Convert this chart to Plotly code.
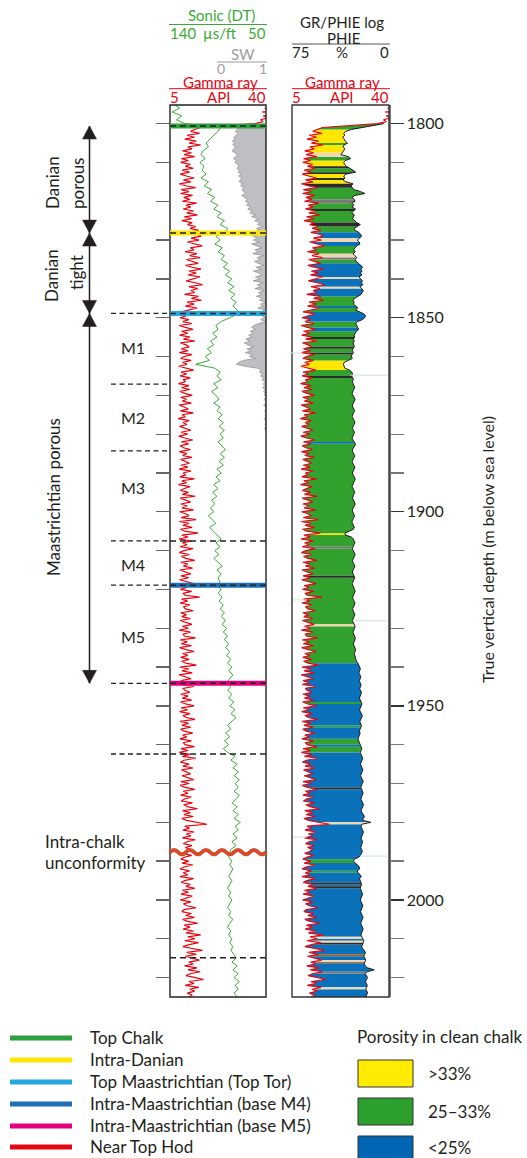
import numpy as np
import plotly.graph_objects as go

W, H = 527, 1158
FONT = "Lato"
TXT = "#231f20"
RED = "#E30613"
GREEN = "#3AAA35"
GREY = "#9D9D9C"

# ---------------- DATA ----------------
# Gamma ray (API), 0.5 m sampling starting at 1795 m
GR_TOP = 1795.0
GR_STEP = 0.5
GR_API = [
    46, 44, 39.5, 45, 38.5, 44, 39, 41, 38, 39, 36, 27, 16, 14,
    12.5, 15.8, 11.2, 13.9, 10.4, 14.6, 12.0, 16.2, 11.5, 13.0, 9.6, 12.8, 10.1, 14.0, 9.2, 11.7, 8.9, 12.4, 10.6, 13.5,
    9.4, 12.1, 8.7, 11.0, 13.8, 9.9, 12.6, 8.4, 10.8, 14.3, 9.1, 11.9, 8.8, 13.2, 10.0, 12.2, 9.5, 14.7, 10.9, 12.5,
    9.8, 13.6, 11.1, 15.0, 10.2, 12.9, 9.3, 13.1, 11.4, 14.4, 12.3, 15.5,
    11.8, 14.9, 16.4, 12.7, 15.6, 11.3, 14.1, 16.8, 12.4, 13.7, 10.5, 14.8, 12.2, 16.0, 11.0, 13.4, 15.3, 10.7, 13.0, 16.3,
    12.0, 14.5, 11.6, 15.9, 13.3, 10.9, 14.2, 16.9, 11.9, 15.1, 12.6, 14.0, 10.3, 15.4, 12.8, 16.5, 11.2, 13.8, 10.6, 14.9,
    12.1, 9.0, 13.2, 10.4, 8.6, 11.8, 9.7, 12.9, 8.3, 10.6, 13.4, 9.2, 11.5, 8.5, 12.3, 9.9, 14.1, 8.8, 10.9, 12.0,
    9.1, 11.6, 8.4, 13.0, 10.2, 8.9, 12.7, 9.6, 11.3, 8.2, 10.5, 13.6, 9.0, 11.1, 8.7, 12.4, 9.8, 10.7, 8.1, 11.9,
    9.3, 12.2, 8.6, 10.4, 13.1, 8.9, 11.0, 9.5, 12.8, 8.3, 10.1, 11.7, 8.8, 13.5, 9.4, 10.6, 8.0, 12.0, 9.7, 11.2,
    8.5, 10.9, 12.6, 9.0, 11.4, 8.2, 10.3, 13.3, 9.2, 11.8, 8.7, 10.0, 12.4, 8.4, 11.1, 9.6, 13.0, 8.9, 10.5, 12.1,
    9.0, 11.5, 8.3, 12.7, 9.8, 10.6, 8.6, 13.9, 9.3, 11.0, 8.1, 12.3, 10.2, 8.8, 11.7, 9.5, 14.2, 8.7, 10.8, 12.5,
    8.9, 11.3, 9.4, 13.6, 8.5, 10.7, 12.0, 9.1, 14.5, 8.4, 11.9, 9.7, 13.1, 8.8, 10.4, 15.2, 9.3, 11.6, 8.2, 12.8,
    9.6, 11.2, 8.7, 13.4, 10.0, 8.4, 12.1, 9.2, 10.8, 14.0, 8.9, 11.5, 9.9, 13.2, 8.6, 10.3, 12.6, 9.0, 11.8, 8.5,
    10.9, 13.7, 9.4, 11.1, 8.8, 12.9, 9.7, 10.5, 15.8, 9.2, 11.4, 8.6, 12.2, 9.9, 10.7, 13.5, 8.9, 11.0, 9.3, 12.4,
    8.7, 10.6, 13.0, 9.5, 11.7, 8.4, 12.5, 9.8, 10.2, 14.3, 8.8, 11.3, 9.1, 12.8, 8.5, 10.9, 13.8, 9.6, 11.5, 8.9,
    12.0, 9.2, 10.8, 14.6, 8.6, 11.9, 9.4, 13.1, 8.3, 10.5, 12.7, 9.0, 11.2, 8.7, 13.6, 9.8, 10.4, 12.2, 8.9, 11.6,
    9.5, 12.9, 8.8, 10.7, 13.8, 9.1, 11.4, 8.5, 12.3, 9.7, 10.9, 14.1, 8.7, 11.8, 9.3, 12.6, 8.9, 10.2, 13.3, 9.6,
    11.1, 8.6, 12.8, 9.9, 10.5, 13.9, 9.0, 11.6, 8.4, 12.2, 9.5, 14.4, 10.1, 8.8, 11.9, 9.7, 13.4, 9.2, 10.8, 12.5,
    9.4, 11.3, 13.6, 9.0, 12.0, 8.7, 10.6, 14.0, 9.8, 11.5, 8.9, 12.7, 10.3, 9.1, 13.2, 10.0, 11.7, 15.0, 9.6, 12.4,
    10.1, 13.5, 9.3, 11.0, 14.8, 18.5, 10.4, 12.1, 9.7, 13.8, 10.9, 12.6, 9.5, 14.2, 11.2, 9.9, 13.0, 10.6, 12.3, 11.4,
    9.6, 12.9, 10.2, 8.9, 11.8, 9.4, 13.3, 10.0, 8.7, 12.1, 9.8, 11.5, 8.6, 13.6, 10.3, 9.1, 12.4, 10.8, 14.0, 9.5,
    11.7, 9.0, 13.1, 10.5, 8.8, 12.6, 9.9, 11.2, 14.5, 10.1, 9.3, 12.8, 10.7, 13.9, 9.6, 11.4, 15.1, 10.2, 12.3, 9.8,
    13.6, 10.9, 16.2, 11.5, 14.1, 10.4, 15.4, 12.0, 9.7, 13.2, 16.8, 11.1, 14.6, 10.6, 12.9, 15.7, 11.8, 13.5, 10.3, 14.8,
    11.6, 16.0, 12.4, 10.8, 14.3, 17.2, 11.9, 13.7, 10.5, 15.5, 12.2, 14.0, 11.3, 13.1, 12.0,
]

# Effective porosity PHIE (%), 0.5 m sampling starting at 1800 m
PHIE_TOP = 1800.0
PHIE_STEP = 0.5
PHIE_PCT = [
    4, 12, 21, 29, 33.5, 35.0, 34.2, 35.8, 34.6, 33.9, 32.0, 34.8, 35.5, 34.1, 35.2, 36.5, 37.2, 31.5, 29.6, 33.6,
    35.0, 34.3, 33.0, 30.2, 27.5, 25.8, 33.2, 35.1, 34.0, 35.6, 33.4, 27.8, 29.5, 28.0, 27.3, 22.0, 18.6, 26.5, 28.4, 27.0,
    26.2, 28.8, 27.1, 28.5, 25.9, 27.4, 28.9, 26.8, 27.6, 28.3, 26.4, 25.0, 22.2, 24.6, 27.0, 26.1, 23.4, 22.0, 21.2, 22.8,
    24.5, 23.1, 22.4, 25.2, 26.6, 27.3, 26.0, 27.8, 26.5, 24.8, 26.2, 25.4, 23.6, 21.5, 20.4, 21.8, 20.9, 22.1, 21.0, 23.2,
    22.0, 20.6, 21.4, 20.2, 22.5, 21.0, 19.8, 20.7, 21.6, 24.0, 26.5, 27.8, 26.9, 27.5, 25.3, 24.1, 26.0, 22.5, 19.5, 18.2,
    18.8, 20.6, 24.5, 25.7, 25.0, 24.2, 23.5, 25.3, 26.4, 27.0, 26.6, 27.5, 26.9, 27.8, 27.2, 26.8, 27.9, 28.3, 27.4, 28.6,
    29.0, 28.4, 31.5, 34.6, 35.3, 35.0, 34.2, 30.5, 28.8, 28.2, 28.9, 28.0,
    27.6, 28.4, 27.9, 27.0, 26.5, 27.3, 28.1, 28.6, 27.8, 26.9, 26.2, 26.8, 27.7, 28.3, 28.0, 27.1, 26.6, 27.4, 28.2, 28.5,
    27.6, 26.8, 26.3, 27.0, 27.9, 28.4, 27.5, 26.7, 27.2, 28.0, 28.6, 27.9, 26.9, 25.9, 26.5, 27.6, 28.3, 28.1, 27.3, 26.6,
    27.0, 27.9, 28.5, 28.0, 27.1, 26.4, 26.9, 27.8, 28.4, 27.7, 26.8, 26.1, 26.7, 27.5, 28.2, 28.6, 27.8, 27.0, 26.5, 27.2,
    28.0, 28.3, 27.4, 26.6, 26.2, 26.9, 27.8, 28.4, 28.1, 27.2, 26.7, 27.3, 28.1, 28.7, 28.2, 27.4, 26.8, 27.5, 31.0, 34.0,
    33.8, 29.0, 27.6, 26.9, 26.3, 27.1, 27.9, 28.3, 27.6, 26.8, 26.2, 26.7, 27.6, 28.2, 27.9, 27.0, 26.4, 27.1, 27.8, 28.4,
    27.7, 26.9, 26.5, 27.2, 28.0, 28.5, 27.9, 27.1, 26.6, 26.2, 26.8, 27.6, 28.1, 27.8, 27.0, 26.3, 26.7, 27.5, 28.2, 27.7,
    26.9, 26.4, 27.0, 27.8, 28.3, 27.6, 26.8, 26.2, 26.6, 27.4, 27.9, 27.3, 26.5, 26.0, 26.4, 27.2, 27.6, 27.0, 26.3, 25.8,
    26.2, 26.9, 26.4, 25.9, 25.6, 25.2, 24.0, 23.4, 22.6, 22.1, 22.8, 23.3, 22.5, 21.8, 22.2, 23.0, 22.4, 21.6, 21.9, 22.7,
    22.0, 21.3, 21.7, 22.5, 22.9, 22.2, 21.4, 20.9, 21.5, 22.3, 22.8, 22.1, 21.2, 20.6, 21.1, 21.9, 22.6, 22.0, 21.3, 21.8,
    22.6, 22.9, 22.3, 23.0, 23.6, 24.0, 23.5, 22.8, 22.4, 21.7, 21.0, 21.5, 22.2, 21.6, 20.8, 20.3, 20.9, 21.7, 22.1, 21.4,
    20.7, 20.2, 20.8, 21.6, 22.0, 21.3, 20.5, 19.9, 20.6, 21.4, 21.9, 21.1, 20.4, 20.0, 20.7, 21.5, 21.8, 21.0, 20.3, 19.7,
    20.4, 21.2, 21.6, 20.8, 19.6, 19.0, 19.8, 20.6, 14.0, 21.1, 21.7, 21.2, 20.5, 19.8, 20.3, 21.0, 21.6, 21.1, 20.4, 20.9,
    21.5, 21.8, 21.2, 20.6, 21.3, 22.0, 23.5, 26.8, 27.5, 26.0, 23.8, 23.0, 22.7, 24.5, 24.0, 22.2, 21.5, 22.9, 22.3, 21.8,
    21.2, 21.7, 22.3, 21.6, 20.9, 20.4, 21.0, 21.8, 22.2, 21.5, 20.7, 20.2, 20.8, 21.5, 22.0, 21.3, 20.6, 20.1, 20.7, 21.4,
    21.9, 21.2, 20.5, 20.0, 20.6, 21.3, 21.7, 21.0, 20.2, 19.5, 19.9, 20.6, 21.1, 20.4, 19.0, 18.2, 18.8, 19.5, 18.6, 18.0,
    18.7, 19.3, 18.4, 16.5, 11.5, 17.0, 18.5, 17.2, 16.6, 17.4, 18.2, 17.5, 16.8, 17.3, 18.0, 17.1, 16.6, 17.4, 17.8,
]

# Sonic DT (us/ft), 1 m sampling starting at 1795 m
DT_TOP = 1795.0
DT_STEP = 1.0
DT_US = [
    136, 131, 138, 129, 134,
    126, 93, 95, 99, 103, 106, 104, 109, 111, 107,
    112, 108, 110, 106, 111, 104, 108, 101, 105, 98,
    102, 95, 99, 92, 96, 89, 93, 86, 88, 97,
    93, 98, 91, 95, 89, 92, 86, 90, 84, 88,
    82, 86, 80, 85, 79, 83, 78, 81, 77, 76,
    84, 92, 97, 95, 100, 96, 102, 99, 105, 101,
    107, 103, 116, 98, 93, 96, 92, 99, 95, 101,
    97, 94, 99, 93, 96, 91, 95, 90, 94, 89,
    93, 90, 95, 91, 88, 93, 89, 94, 90, 96,
    92, 97, 93, 99, 95, 100, 96, 101, 98, 102,
    99, 104, 100, 97, 103, 99, 95, 92, 97, 93,
    98, 94, 99, 95, 91, 96, 92, 95, 93, 96,
    92, 95, 91, 94, 90, 93, 89, 92, 88, 91,
    87, 90, 86, 89, 85, 88, 84, 87, 83, 86,
    82, 85, 81, 84, 87, 83, 86, 82, 85, 80,
    84, 79, 83, 78, 82, 86, 83, 88, 84, 89,
    85, 90, 86, 79, 83, 77, 81, 76, 80, 75,
    79, 76, 80, 75, 78, 82, 77, 81, 76, 80,
    74, 79, 76, 81, 77, 82, 78, 83, 84, 85,
    82, 84, 81, 83, 85, 82, 84, 86, 83, 85,
    82, 84, 86, 83, 85, 81, 84, 86, 83, 85,
    82, 84, 81, 83, 80, 78, 82, 77, 81, 76,
    80, 75, 79, 76, 80, 77,
]

# Water saturation SW (fraction), 0.5 m sampling starting at 1800 m
SW_TOP = 1800.0
SW_STEP = 0.5
SW_FRAC = [
    1.0, 0.72, 0.42, 0.40, 0.36, 0.41, 0.38, 0.33, 0.35, 0.30, 0.34, 0.31, 0.37, 0.33, 0.29, 0.35, 0.40, 0.36, 0.32, 0.38,
    0.35, 0.41, 0.44, 0.39, 0.45, 0.42, 0.48, 0.43, 0.50, 0.46, 0.44, 0.52, 0.47, 0.55, 0.50, 0.53, 0.58, 0.49, 0.56, 0.61,
    0.57, 0.64, 0.59, 0.68, 0.62, 0.72, 0.66, 0.78, 0.70, 0.85, 0.76, 0.88, 0.82, 0.93, 0.80, 0.86, 0.75, 0.69, 0.73, 0.81,
    0.74, 0.86, 0.70, 0.79, 0.91, 0.77, 0.84, 0.72, 0.95, 0.81, 0.88, 0.76, 0.83, 0.97, 0.79, 0.90, 0.74, 0.85, 0.92, 0.78,
    0.87, 0.73, 0.94, 0.82, 0.89, 0.77, 0.96, 0.84, 0.91, 0.80, 0.93, 0.86, 0.99, 0.88, 0.95, 0.83, 0.97, 0.90, 1.0, 0.92,
    0.96, 0.89, 0.98, 0.85, 0.74, 0.70, 0.78, 0.67, 0.73, 0.64, 0.71, 0.58, 0.66, 0.55, 0.62, 0.75, 0.60, 0.69, 0.57, 0.72,
    0.65, 0.78, 0.52, 0.43, 0.38, 0.55, 0.82, 0.90, 0.86, 0.93, 0.88, 0.96, 0.91, 0.98, 0.94, 0.97, 0.93, 0.99, 0.95, 0.98,
    0.97, 1.0, 0.96, 0.99, 1.0, 0.95, 0.99, 1.0, 0.97, 1.0, 0.98, 1.0, 0.96, 1.0, 1.0, 0.98, 1.0, 0.97, 1.0, 1.0,
]

# Porosity classes of the clean chalk (top, base, class)
ZONE_TOP = [1800.0, 1801.5, 1805.0, 1805.5, 1807.5, 1808.5, 1809.5, 1811.0, 1811.5, 1812.5, 1813.0, 1814.0, 1814.5,
            1815.5, 1816.5, 1819.5, 1820.5, 1822.0, 1822.5, 1825.5, 1826.5, 1828.0, 1829.5, 1830.5, 1831.5, 1833.5,
            1834.5, 1835.0, 1836.0, 1839.5, 1840.0, 1842.0, 1842.5, 1844.5, 1847.0, 1847.5, 1848.5, 1851.0, 1852.5,
            1853.5, 1855.0, 1855.5, 1857.5, 1858.0, 1859.0, 1859.5, 1861.0, 1863.5, 1865.0, 1865.5, 1882.0, 1882.5,
            1905.5, 1906.0, 1909.0, 1909.5, 1916.5, 1917.0, 1929.0, 1929.5, 1939.0, 1949.0, 1949.5, 1955.0, 1955.5,
            1958.5, 1960.0, 1960.5, 1962.0, 1971.0, 1971.5, 1980.0, 1980.5, 1989.5, 1990.5, 1992.5, 1993.0, 1995.5,
            1996.0, 1996.5, 1997.0, 2009.5, 2010.0, 2010.5, 2011.0, 2011.5, 2014.0, 2014.5, 2015.5, 2016.0, 2016.5,
            2018.5, 2019.0, 2022.5, 2023.0]
ZONE_BASE = ZONE_TOP[1:] + [2025.0]
ZONE_CLASS = ["mid", "high", "mid", "high", "marl", "mid", "high", "dark", "mid", "dark", "high", "dark", "high",
              "dark", "mid", "grey", "mid", "dark", "mid", "dark", "mid", "low", "marl", "low", "mid", "marl",
              "grey", "mid", "low", "marl", "low", "marl", "low", "mid", "low", "mid", "low", "mid", "low",
              "mid", "dark", "mid", "dark", "mid", "dark", "mid", "high", "mid", "dark", "mid", "low", "mid",
              "high", "mid", "grey", "mid", "dark", "mid", "marl", "mid", "low", "mid", "low", "mid", "low",
              "mid", "low", "mid", "low", "dark", "low", "marl", "low", "mid", "low", "mid", "low", "dark",
              "low", "dark", "low", "marl", "low", "marl", "dark", "low", "brown", "low", "marl", "grey", "low",
              "grey", "low", "marl", "low"]
ZONE_COLORS = {"high": "#FFE600", "mid": "#33A12E", "low": "#0A72BA", "marl": "#F1D6B2",
               "dark": "#2B2B2B", "grey": "#7A7A7A", "brown": "#8C6239"}

# Horizons
HORIZON_NAMES = ["Top Chalk", "Intra-Danian", "Top Maastrichtian (Top Tor)",
                 "Intra-Maastrichtian (base M4)", "Intra-Maastrichtian (base M5)", "Near Top Hod"]
HORIZON_COLORS = ["#2CA03C", "#FFE500", "#25A7E2", "#1D6FB6", "#E4007C", "#E30613"]
HORIZON_DEPTHS = [1800.6, 1828.2, 1848.9, 1918.9, 1944.2]
ZONE_DASH_DEPTHS = [1848.9, 1867.1, 1884.3, 1907.5, 1918.9, 1944.2, 1962.4]
TRACK_DASH_DEPTHS = [1907.5, 1962.4, 2014.9]
UNCONFORMITY_DEPTH = 1987.7
M_LABELS = ["M1", "M2", "M3", "M4", "M5"]
M_LABEL_DEPTHS = [1857.7, 1875.7, 1893.7, 1913.5, 1932.1]
UNIT_TOPS = [1800.6, 1828.2, 1848.9]
UNIT_BASES = [1828.2, 1848.9, 1944.2]

POR_LEGEND = [">33%", "25–33%", "<25%"]
POR_LEGEND_COLORS = ["#FFEC00", "#2CA02C", "#0066B3"]

DEPTH_MIN, DEPTH_MAX = 1795.2, 2025.0

# ---------------- FIGURE ----------------
GR_DEPTH = GR_TOP + GR_STEP * np.arange(len(GR_API))
PHIE_DEPTH = PHIE_TOP + PHIE_STEP * np.arange(len(PHIE_PCT))
DT_DEPTH = DT_TOP + DT_STEP * np.arange(len(DT_US))
SW_DEPTH = SW_TOP + SW_STEP * np.arange(len(SW_FRAC))
PHIE = np.array(PHIE_PCT, dtype=float)


def px(xp):
    return xp / W


def py(yp):
    return 1 - yp / H


LT = [px(170), px(266)]
RT = [px(292), px(389)]
YD = [py(997), py(105)]

fig = go.Figure()
common = dict(mode="lines", hoverinfo="skip", showlegend=False)

# Left track: SW fill, GR, DT
fig.add_trace(go.Scatter(x=list(SW_FRAC) + [1.0, 1.0],
                         y=list(SW_DEPTH) + [SW_DEPTH[-1], SW_DEPTH[0]],
                         xaxis="x", yaxis="y", fill="toself", fillcolor="#BEBFC3",
                         line=dict(color="#8E8E8E", width=0.7), **common))
fig.add_trace(go.Scatter(x=GR_API, y=GR_DEPTH, xaxis="x2", yaxis="y",
                         line=dict(color=RED, width=1.2), **common))
fig.add_trace(go.Scatter(x=DT_US, y=DT_DEPTH, xaxis="x3", yaxis="y",
                         line=dict(color=GREEN, width=1), **common))

# Right track: porosity-class fills between PHIE and left edge
for cls, col in ZONE_COLORS.items():
    xs, ys = [], []
    for top, base, c in zip(ZONE_TOP, ZONE_BASE, ZONE_CLASS):
        if c != cls:
            continue
        m = (PHIE_DEPTH >= top - 1e-6) & (PHIE_DEPTH <= base + 1e-6)
        xs += [75.0] + list(PHIE[m]) + [75.0, None]
        ys += [top] + list(PHIE_DEPTH[m]) + [base, None]
    if xs:
        fig.add_trace(go.Scatter(x=xs, y=ys, xaxis="x4", yaxis="y2", fill="toself",
                                 fillcolor=col, line=dict(width=0), **common))

# white mask left of GR curve
fig.add_trace(go.Scatter(x=[5.0] + list(GR_API) + [5.0],
                         y=[GR_DEPTH[0]] + list(GR_DEPTH) + [GR_DEPTH[-1]],
                         xaxis="x5", yaxis="y2", fill="toself", fillcolor="white",
                         line=dict(width=0), **common))
fig.add_trace(go.Scatter(x=GR_API, y=GR_DEPTH, xaxis="x5", yaxis="y2",
                         line=dict(color=RED, width=1.2), **common))
fig.add_trace(go.Scatter(x=PHIE_PCT, y=PHIE_DEPTH, xaxis="x6", yaxis="y2",
                         line=dict(color="#1a1a1a", width=1), **common))

hid = dict(visible=False, fixedrange=True)
yax = dict(domain=YD, range=[DEPTH_MAX, DEPTH_MIN], showgrid=False, zeroline=False, fixedrange=True)
fig.update_layout(
    width=W, height=H, autosize=False,
    margin=dict(l=0, r=0, t=0, b=0),
    paper_bgcolor="white", plot_bgcolor="rgba(0,0,0,0)",
    font=dict(family=FONT, color=TXT),
    xaxis=dict(domain=LT, range=[-1, 1], anchor="y", **hid),
    xaxis2=dict(overlaying="x", range=[5, 40], anchor="y", **hid),
    xaxis3=dict(overlaying="x", range=[140, 50], anchor="y", **hid),
    xaxis4=dict(domain=RT, range=[75, 0], anchor="y2", **hid),
    xaxis5=dict(overlaying="x4", range=[5, 40], anchor="y2", **hid),
    xaxis6=dict(overlaying="x4", range=[75, 0], anchor="y2", **hid),
    yaxis=dict(anchor="x", side="left", ticks="outside", ticklen=13, tickwidth=1.3,
               tickcolor="#666", dtick=10, tick0=1800, showticklabels=False, showline=False, **yax),
    yaxis2=dict(anchor="x4", side="right", ticks="outside", ticklen=13, tickwidth=1.3,
                tickcolor="#333", dtick=50, tick0=1800, showticklabels=True,
                tickfont=dict(family=FONT, size=16, color=TXT),
                minor=dict(dtick=10, ticks="outside", ticklen=13, tickwidth=1.3, tickcolor="#777"),
                showline=True, linecolor="#777", linewidth=1.5, **yax),
)

shapes = []
anns = []


def hline_paper(x0, x1, ypx, color, width=1):
    shapes.append(dict(type="line", xref="paper", yref="paper", x0=px(x0), x1=px(x1),
                       y0=py(ypx), y1=py(ypx), line=dict(color=color, width=width)))


def txt(text, xpx, ypx, size=17, color=TXT, xanchor="center", angle=0):
    anns.append(dict(text=text, x=px(xpx), y=py(ypx), xref="paper", yref="paper",
                     showarrow=False, xanchor=xanchor, yanchor="middle", textangle=angle,
                     borderpad=0, font=dict(family=FONT, size=size, color=color)))


# Track borders
shapes.append(dict(type="rect", xref="paper", yref="paper", x0=LT[0], x1=LT[1], y0=YD[0], y1=YD[1],
                   line=dict(color="#222", width=1.4), layer="above"))
shapes.append(dict(type="rect", xref="paper", yref="paper", x0=RT[0], x1=RT[1], y0=YD[0], y1=YD[1],
                   line=dict(color="#333", width=1.4), layer="above"))

# faint correlation ticks in right track
for d, xa, xb, c in [(1864.8, 350, 388, "#C6E8C6"), (1928.1, 355, 387, "#C6E8C6"),
                     (1922.7, 293, 307, "#C6E8C6"), (1983.8, 293, 307, "#BFE0F2"),
                     (1988.7, 360, 387, "#BFE0F2"), (1859.1, 290, 303, "#DDDDDD")]:
    shapes.append(dict(type="line", xref="paper", yref="y", x0=px(xa), x1=px(xb), y0=d, y1=d,
                       line=dict(color=c, width=1)))

# Horizon bands in left track
for d, c in zip(HORIZON_DEPTHS, HORIZON_COLORS[:5]):
    shapes.append(dict(type="line", xref="paper", yref="y", x0=px(170), x1=px(266), y0=d, y1=d,
                       line=dict(color=c, width=5), layer="above"))
    shapes.append(dict(type="line", xref="paper", yref="y", x0=px(170), x1=px(266), y0=d, y1=d,
                       line=dict(color="#222", width=1.5, dash="6px,4px"), layer="above"))
for d in TRACK_DASH_DEPTHS:
    shapes.append(dict(type="line", xref="paper", yref="y", x0=px(170), x1=px(266), y0=d, y1=d,
                       line=dict(color="#222", width=1.5, dash="6px,4px"), layer="above"))
for d in ZONE_DASH_DEPTHS:
    shapes.append(dict(type="line", xref="paper", yref="y", x0=px(111), x1=px(170), y0=d, y1=d,
                       line=dict(color="#222", width=1.3, dash="5px,3.5px"), layer="above"))

# Unconformity wavy line
x0 = px(170)
hw = px(8)
amp = 1.1
path = f"M {x0},{UNCONFORMITY_DEPTH}"
for i in range(12):
    s = -1 if i % 2 == 0 else 1
    path += f" Q {x0 + (i + 0.5) * hw},{UNCONFORMITY_DEPTH + s * amp} {x0 + (i + 1) * hw},{UNCONFORMITY_DEPTH}"
shapes.append(dict(type="path", xref="paper", yref="y", path=path,
                   line=dict(color="#DA4A2A", width=4), layer="above"))

# Unit arrows
AX = 89.5
shapes.append(dict(type="line", xref="paper", yref="y", x0=px(AX), x1=px(AX),
                   y0=UNIT_TOPS[0], y1=UNIT_BASES[-1], line=dict(color=TXT, width=1.5)))
head_h = 13 / 3.8825
hw_px = 7
for t, b in zip(UNIT_TOPS, UNIT_BASES):
    up = f"M {px(AX)},{t} L {px(AX - hw_px)},{t + head_h} L {px(AX + hw_px)},{t + head_h} Z"
    dn = f"M {px(AX)},{b} L {px(AX - hw_px)},{b - head_h} L {px(AX + hw_px)},{b - head_h} Z"
    for p in (up, dn):
        shapes.append(dict(type="path", xref="paper", yref="y", path=p,
                           fillcolor=TXT, line=dict(color=TXT, width=0.5)))

# Unit labels
txt("Danian", 52, 183, angle=-90)
txt("porous", 77, 183, angle=-90)
txt("Danian", 52, 276, angle=-90)
txt("tight", 77, 273, angle=-90)
txt("Maastrichtian porous", 53, 497, angle=-90)
for lab, d in zip(M_LABELS, M_LABEL_DEPTHS):
    anns.append(dict(text=lab, x=px(133), y=d, xref="paper", yref="y", showarrow=False,
                     xanchor="center", yanchor="middle", font=dict(family=FONT, size=16, color=TXT)))
txt("Intra-chalk", 44, 841, xanchor="left")
txt("unconformity", 44, 862, xanchor="left")

# Depth axis title
txt("True vertical depth (m below sea level)", 487, 550, size=16, angle=-90)

# Headers - left track
HS = 15
txt("Sonic (DT)", 221, 15, size=HS, color=GREEN)
hline_paper(169, 267, 24.5, GREEN, 1)
txt("140", 169, 33, size=HS, color=GREEN, xanchor="left")
txt("µs/ft", 220, 33, size=HS, color=GREEN)
txt("50", 267, 33, size=HS, color=GREEN, xanchor="right")
txt("SW", 243, 54, size=HS, color=GREY)
hline_paper(217, 267, 62, GREY, 1)
txt("0", 221, 69, size=14, color=GREY)
txt("1", 263, 69, size=14, color=GREY)
txt("Gamma ray", 220, 82, size=HS, color=RED)
hline_paper(169, 267, 88.7, RED, 1)
txt("5", 169, 96.5, size=HS, color=RED, xanchor="left")
txt("API", 218, 96.5, size=HS, color=RED)
txt("40", 267, 96.5, size=HS, color=RED, xanchor="right")
# Headers - right track
txt("GR/PHIE log", 342, 22, size=HS)
txt("PHIE", 343, 38, size=HS)
hline_paper(292, 390, 44, "#555", 1)
txt("75", 291, 52, size=HS, xanchor="left")
txt("%", 342, 52, size=HS)
txt("0", 390, 52, size=HS, xanchor="right")
txt("Gamma ray", 342, 82, size=HS, color=RED)
hline_paper(292, 390, 88.7, RED, 1)
txt("5", 291, 96.5, size=HS, color=RED, xanchor="left")
txt("API", 341, 96.5, size=HS, color=RED)
txt("40", 390, 96.5, size=HS, color=RED, xanchor="right")

# Horizon legend
LEG_Y = [1038, 1060, 1082, 1104, 1126, 1147]
for name, col, yy in zip(HORIZON_NAMES, HORIZON_COLORS, LEG_Y):
    hline_paper(10, 72, yy, col, 5)
    txt(name, 89, yy - 0.5, xanchor="left")

# Porosity legend
txt("Porosity in clean chalk", 356, 1036, xanchor="left")
BOX_Y = [1060, 1098, 1136]
LAB_Y = [1073, 1111, 1147]
for lab, col, yy, ly in zip(POR_LEGEND, POR_LEGEND_COLORS, BOX_Y, LAB_Y):
    shapes.append(dict(type="rect", xref="paper", yref="paper", x0=px(358), x1=px(413),
                       y0=py(yy + 27), y1=py(yy), fillcolor=col, line=dict(color="#333", width=1)))
    txt(lab, 427, ly, xanchor="left")

fig.update_layout(shapes=shapes, annotations=anns)
fig.write_html("out.html", config={"displayModeBar": False, "staticPlot": True},
               post_script="document.body.style.margin='0px';document.body.style.overflow='hidden';")
